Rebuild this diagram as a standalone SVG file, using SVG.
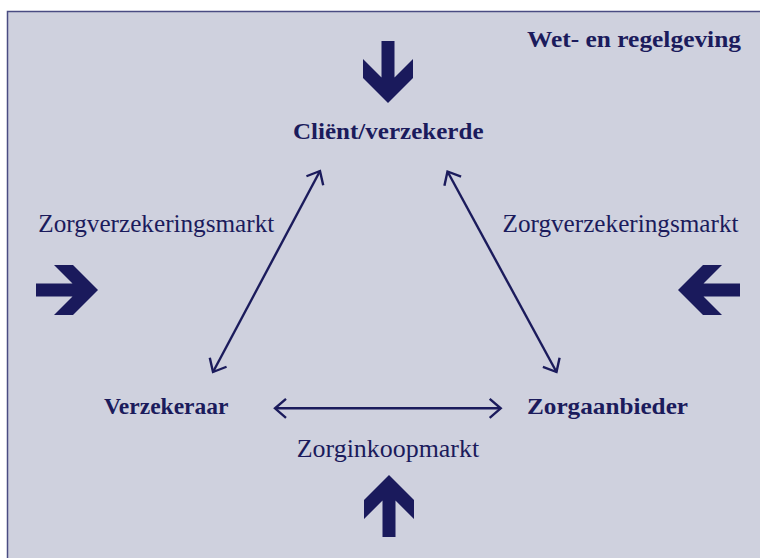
<svg xmlns="http://www.w3.org/2000/svg" width="760" height="558" viewBox="0 0 760 558">
  <defs>
    <style>
      .bold { font-family: "Liberation Serif", "Times New Roman", serif; font-weight: bold; font-size: 24px; fill: #1b1b5c; }
      .reg { font-family: "Liberation Serif", "Times New Roman", serif; font-size: 25px; fill: #1b1b5c; }
      .link { stroke: #1b1b5c; stroke-width: 2.4; fill: none; }
      .big { fill: #1a1a5c; }
    </style>
    <!-- open V arrowhead for the market relations -->
    <marker id="tip" markerUnits="userSpaceOnUse" markerWidth="20" markerHeight="24" viewBox="-13 -12 16 24" refX="0" refY="0" orient="auto-start-reverse">
      <path d="M-11,-9.5 L0,0 L-11,9.5" fill="none" stroke="#1b1b5c" stroke-width="2.4" stroke-linejoin="miter"/>
    </marker>
    <!-- heavy block arrow, pointing up, tip at origin -->
    <polygon id="block" points="0,0 25,25 25,44 6.5,25.5 6.5,62 -6.5,62 -6.5,25.5 -25,44 -25,25"/>
  </defs>

  <!-- frame -->
  <rect x="7.5" y="11.5" width="800" height="600" fill="#cfd1de" stroke="#4a4c82" stroke-width="1.5"/>

  <text class="bold" x="741" y="47" text-anchor="end" textLength="214" lengthAdjust="spacingAndGlyphs">Wet- en regelgeving</text>

  <!-- external pressure arrows -->
  <g id="pressure-arrows" class="big">
    <use href="#block" transform="translate(388,103) rotate(180)"/>
    <use href="#block" transform="translate(389,475)"/>
    <use href="#block" transform="translate(98,290) rotate(90)"/>
    <use href="#block" transform="translate(678,290) rotate(-90)"/>
  </g>

  <!-- market relations -->
  <g id="connectors">
    <line class="link" x1="213" y1="372" x2="320" y2="171" marker-start="url(#tip)" marker-end="url(#tip)"/>
    <line class="link" x1="447.5" y1="171.5" x2="556.5" y2="372" marker-start="url(#tip)" marker-end="url(#tip)"/>
    <line class="link" x1="275" y1="408.3" x2="500.7" y2="408.3" marker-start="url(#tip)" marker-end="url(#tip)"/>
  </g>

  <g id="client">
    <text class="bold" x="293" y="139.3" textLength="190.5" lengthAdjust="spacingAndGlyphs">Cliënt/verzekerde</text>
  </g>
  <g id="verzekeraar">
    <text class="bold" x="104" y="414" textLength="124.5" lengthAdjust="spacingAndGlyphs">Verzekeraar</text>
  </g>
  <g id="zorgaanbieder">
    <text class="bold" x="527" y="414" textLength="161" lengthAdjust="spacingAndGlyphs">Zorgaanbieder</text>
  </g>

  <g id="market-labels">
    <text class="reg" x="38.3" y="231.5" textLength="236" lengthAdjust="spacingAndGlyphs">Zorgverzekeringsmarkt</text>
    <text class="reg" x="502.5" y="231.5" textLength="236" lengthAdjust="spacingAndGlyphs">Zorgverzekeringsmarkt</text>
    <text class="reg" x="296.7" y="456.5" textLength="182.5" lengthAdjust="spacingAndGlyphs">Zorginkoopmarkt</text>
  </g>
</svg>
